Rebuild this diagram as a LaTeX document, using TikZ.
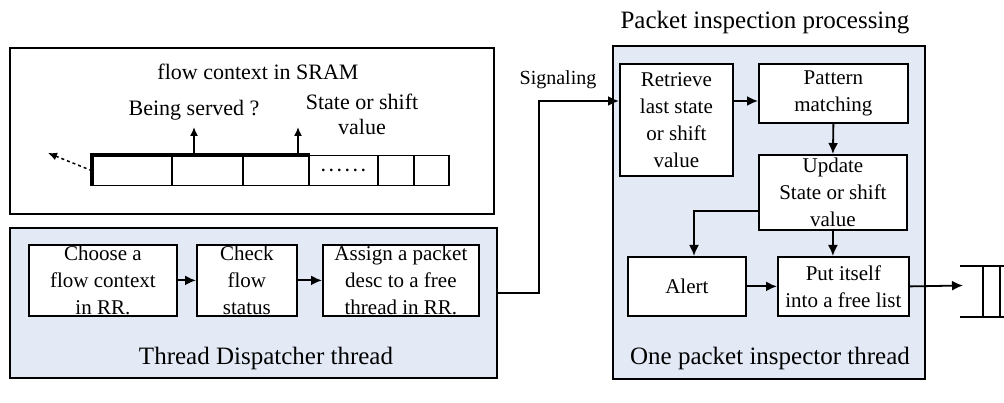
\documentclass[tikz,border=0pt]{standalone}
\usepackage{fontspec}
\setmainfont{Liberation Serif}
\usetikzlibrary{arrows.meta}
\definecolor{panel}{HTML}{E3EAF6}
\begin{document}
\begin{tikzpicture}[x=1pt,y=-1pt,
  box/.style={draw, line width=1.8pt, fill=white, inner sep=0pt, align=center, anchor=north west, font=\fontsize{21}{27}\selectfont},
  panelbox/.style={draw, line width=1.8pt, fill=panel, inner sep=0pt, anchor=north west},
  cellbox/.style={draw, line width=1.5pt, fill=white, inner sep=0pt, anchor=north west, minimum height=30pt},
  lbl/.style={inner sep=0pt, align=center},
  arr/.style={line width=1.8pt, -{Latex[length=11pt,width=10pt]}},
  arrsm/.style={line width=1.5pt, -{Latex[length=9pt,width=8pt]}},
]
\useasboundingbox (0,0) rectangle (1004,403);
% panels
\node[draw, line width=1.6pt, inner sep=0pt, anchor=north west, minimum width=484pt, minimum height=166pt] (sram) at (9,47) {};
\node[panelbox, minimum width=487pt, minimum height=150pt] (disp) at (9,227) {};
\node[panelbox, minimum width=312pt, minimum height=333pt] (pi) at (612,45) {};

% SRAM contents
\node[lbl, font=\fontsize{22}{26}\selectfont] (sramt) at (258,72) {flow context in SRAM};
\node[lbl, font=\fontsize{22}{26}\selectfont] (bsv) at (194,110) {Being served ?};
\node[lbl, font=\fontsize{22}{25}\selectfont] (ssv) at (362,114) {State or shift\\value};
\node[cellbox, minimum width=79pt] (c1) at (92,155) {};
\node[cellbox, minimum width=71pt] (c2) at (171,155) {};
\node[cellbox, minimum width=66pt] (c3) at (242,155) {};
\node[cellbox, minimum width=69pt, font=\fontsize{16}{18}\selectfont\bfseries] (c4) at (308,155) {.~.~.~.~.~.};
\node[cellbox, minimum width=36pt] (c5) at (377,155) {};
\node[cellbox, minimum width=35pt] (c6) at (413,155) {};
\draw[line width=3.5pt] (c3.north east) -- (c1.north west) -- (c1.south west);
\coordinate (bs) at (194,127);
\coordinate (sv) at (298,127);
\coordinate (dl) at (48,153);
\draw[arrsm] (bs |- c2.north) -- (bs);
\draw[arrsm] (sv |- c3.north) -- (sv);
\draw[arrsm, dashed] (c1.west) -- (dl);

% dispatcher
\node[box, minimum width=148pt, minimum height=71pt] (d1) at (28,244) {Choose a\\flow context\\in RR.};
\node[box, minimum width=100pt, minimum height=71pt] (d2) at (196,244) {Check\\flow\\status};
\node[box, minimum width=156pt, minimum height=71pt] (d3) at (322,244) {Assign a packet\\desc to a free\\thread in RR.};
\node[lbl, font=\fontsize{25}{30}\selectfont] (dispt) at (266,358) {Thread Dispatcher thread};
\draw[arr] (d1) -- (d2);
\draw[arr] (d2) -- (d3);

% packet inspector
\node[lbl, font=\fontsize{25}{30}\selectfont] (pit) at (765,23) {Packet inspection processing};
\node[lbl, font=\fontsize{25}{30}\selectfont] (pib) at (770,358) {One packet inspector thread};
\node[lbl, font=\fontsize{20}{24}\selectfont] (sig) at (558,80) {Signaling};
\node[box, minimum width=113pt, minimum height=112pt] (r) at (619,63) {Retrieve\\last state\\or shift\\value};
\node[box, minimum width=149pt, minimum height=59pt] (p) at (758,63) {Pattern\\matching};
\node[box, minimum width=148pt, minimum height=75pt] (u) at (758,154) {Update\\State or shift\\value};
\node[box, minimum width=118pt, minimum height=59pt] (a) at (627,256) {Alert};
\node[box, minimum width=131pt, minimum height=59pt] (f) at (777,256) {Put itself\\into a free list};

\coordinate (s1) at (539,293);
\coordinate (s2) at (539,101);
\draw[arr] (s1 -| disp.east) -- (s1) -- (s2) -- (s2 -| r.west);
\draw[arr] (r.east |- s2) -- (p.west |- s2);
\draw[arr] (p.south) -- (u.north);
\coordinate (ua) at (694,211);
\draw[arr] (u.west |- ua) -- (ua) -- (ua |- a.north);
\draw[arr] (u.south) -- (u.south |- f.north);
\draw[arr] (a.east) -- (a.east -| f.west);
\coordinate (q) at (963,285.5);
\draw[arr] (f.east) -- (q);

% queue
\draw[line width=1.8pt] (960,266) -- (1004,266);
\draw[line width=1.8pt] (960,317) -- (1004,317);
\draw[line width=1.8pt] (983,266) -- (983,317);
\draw[line width=1.8pt] (1000,266) -- (1000,317);
\end{tikzpicture}
\end{document}
